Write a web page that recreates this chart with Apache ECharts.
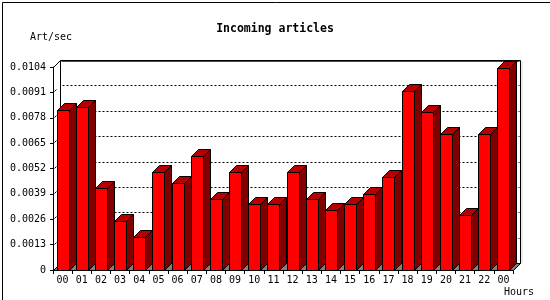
<!DOCTYPE html>
<html>
<head>
<meta charset="utf-8">
<script src="https://cdn.jsdelivr.net/npm/echarts@6/dist/echarts.min.js"></script>
<style>html,body{margin:0;padding:0;background:#fff}#c{width:550px;height:300px}</style>
</head>
<body>
<div id="c"></div>
<script>
const hours = ['00','01','02','03','04','05','06','07','08','09','10','11','12','13','14','15','16','17','18','19','20','21','22','00'];
const artPerSec = [0.0082,0.00834,0.0042,0.0025,0.00169,0.0050,0.00444,0.00582,0.00362,0.0050,0.00336,0.00336,0.0050,0.00362,0.00306,0.00336,0.00388,0.00476,0.00915,0.00808,0.00695,0.0028,0.00695,0.01033];
const yTicks = [0,0.0013,0.0026,0.0039,0.0052,0.0065,0.0078,0.0091,0.0104];
const titleText = 'Incoming articles';
const yName = 'Art/sec';
const xName = 'Hours';

const FONT = '"DejaVu Sans Mono", monospace';
const D = 7;

const chart = echarts.init(document.getElementById('c'), null, {renderer: 'canvas'});

function wallItem(params, api) {
  const cs = params.coordSys;
  const gx = Math.round(cs.x) + 0.5, gy = Math.round(cs.y) + 0.5;
  const gw = Math.round(cs.width), gh = Math.round(cs.height);
  const by = gy + gh;
  return {
    type: 'group',
    children: [
      {type: 'rect', shape: {x: gx + D, y: gy - D, width: gw, height: gh}, style: {fill: '#fff', stroke: '#000', lineWidth: 1}},
      {type: 'line', shape: {x1: gx + D + 1, y1: gy - D + 1, x2: gx + D + gw - 1, y2: gy - D + 1}, style: {stroke: '#ff0000', lineWidth: 1}},
      {type: 'line', shape: {x1: gx + D + gw + 1.5, y1: gy - D + 1, x2: gx + D + gw + 1.5, y2: by - D}, style: {stroke: '#d8d8d8', lineWidth: 1}},
      {type: 'polygon', shape: {points: [[gx, by], [gx + gw, by], [gx + gw + D, by - D], [gx + D, by - D]]}, style: {fill: '#808080', stroke: '#000', lineWidth: 1}},
      {type: 'line', shape: {x1: gx, y1: gy, x2: gx + D, y2: gy - D}, style: {stroke: '#000', lineWidth: 1}}
    ]
  };
}

function gridItem(params, api) {
  const cs = params.coordSys;
  const gx = Math.round(cs.x) + 0.5;
  const gw = Math.round(cs.width);
  const v = api.value(1);
  const y = Math.round(api.coord([0, v])[1]) + 0.5;
  return {
    type: 'group',
    children: [
      {type: 'line', shape: {x1: gx + D + 2, y1: y - D, x2: gx + D + gw - 1, y2: y - D}, style: {stroke: '#000', lineWidth: 1, lineDash: [2, 2]}},
      {type: 'line', shape: {x1: gx + 1, y1: y - 1, x2: gx + 3, y2: y - 3}, style: {stroke: '#000', lineWidth: 1}}
    ]
  };
}

function barItem(params, api) {
  const i = api.value(0), v = api.value(1);
  const p = api.coord([i, v]);
  const b = api.coord([i, 0]);
  const w = 12;
  const x1 = Math.round(p[0] - w / 2) + 0.5, x2 = x1 + w;
  const y1 = Math.round(p[1]) + 0.5, y2 = Math.round(b[1]) + 0.5;
  return {
    type: 'group',
    children: [
      {type: 'polygon', shape: {points: [[x2, y1], [x2 + D, y1 - D], [x2 + D, y2 - D], [x2, y2]]}, style: {fill: '#800000', stroke: '#000', lineWidth: 1}},
      {type: 'polygon', shape: {points: [[x1, y1], [x1 + D, y1 - D], [x2 + D, y1 - D], [x2, y1]]}, style: {fill: '#b40000', stroke: '#000', lineWidth: 1}},
      {type: 'rect', shape: {x: x1, y: y1, width: w, height: y2 - y1}, style: {fill: '#ff0000', stroke: '#000', lineWidth: 1}}
    ]
  };
}

const option = {
  animation: false,
  backgroundColor: '#fff',
  title: {
    text: titleText, left: 'center', top: 18,
    textStyle: {fontFamily: FONT, fontSize: 11.5, fontWeight: 'bold', color: '#000'}
  },
  grid: {left: 53, right: 37, top: 67, bottom: 30, containLabel: false},
  xAxis: {
    type: 'category', data: hours, boundaryGap: true,
    axisLine: {show: true, lineStyle: {color: '#000', width: 1}},
    axisTick: {show: true, length: 4, interval: 0, lineStyle: {color: '#000'}},
    axisLabel: {interval: 0, margin: 5, fontFamily: FONT, fontSize: 10, color: '#000'},
    splitLine: {show: false}
  },
  yAxis: {
    type: 'value', min: 0, max: 0.0104, interval: 0.0013,
    axisLine: {show: true, lineStyle: {color: '#000', width: 1}},
    axisTick: {show: true, length: 3, lineStyle: {color: '#000'}},
    axisLabel: {margin: 7, fontFamily: FONT, fontSize: 10, color: '#000',
      formatter: function (v) { return v === 0 ? '0' : v.toFixed(4); }},
    splitLine: {show: false}
  },
  graphic: [
    {type: 'rect', left: 0, top: 0, shape: {x: 0.5, y: 0.5, width: 549, height: 299}, style: {fill: 'none', stroke: '#000', lineWidth: 1}, z: 100, silent: true},
    {type: 'text', left: 30, top: 32, style: {text: yName, font: '10px ' + FONT, fill: '#000'}},
    {type: 'text', left: 504, top: 287, style: {text: xName, font: '10px ' + FONT, fill: '#000'}}
  ],
  series: [
    {type: 'custom', renderItem: wallItem, data: [[0, 0]], z: 1, silent: true},
    {type: 'custom', renderItem: gridItem, data: yTicks.slice(1, -1).map(v => [0, v]), z: 2, silent: true},
    {type: 'custom', renderItem: barItem, data: artPerSec.map((v, i) => [i, v]), z: 3, silent: true}
  ]
};
chart.setOption(option);
</script>
</body>
</html>
